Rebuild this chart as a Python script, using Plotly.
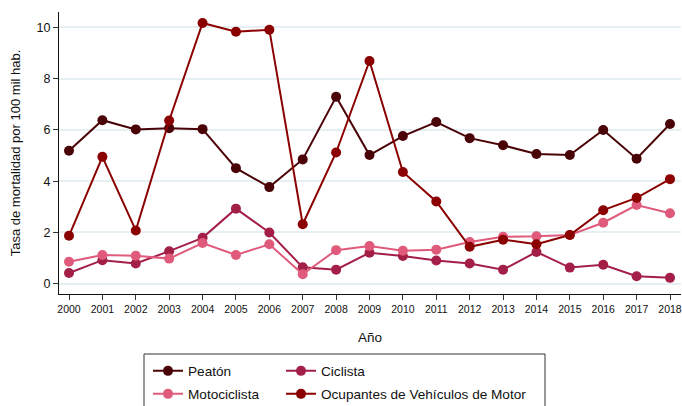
import plotly.graph_objects as go

years = list(range(2000, 2019))
peaton = [5.19, 6.38, 6.02, 6.07, 6.03, 4.51, 3.77, 4.85, 7.29, 5.02, 5.76, 6.31, 5.68, 5.40, 5.06, 5.02, 6.00, 4.88, 6.23]
ciclista = [0.42, 0.92, 0.79, 1.27, 1.79, 2.93, 2.00, 0.64, 0.55, 1.21, 1.08, 0.91, 0.79, 0.55, 1.24, 0.63, 0.74, 0.29, 0.23]
moto = [0.86, 1.12, 1.09, 0.98, 1.59, 1.12, 1.54, 0.37, 1.31, 1.47, 1.29, 1.33, 1.63, 1.83, 1.85, 1.90, 2.38, 3.07, 2.75]
ocupantes = [1.87, 4.95, 2.08, 6.37, 10.17, 9.83, 9.91, 2.32, 5.12, 8.69, 4.36, 3.21, 1.44, 1.72, 1.54, 1.90, 2.87, 3.35, 4.08]

names = ["Peatón", "Ciclista", "Motociclista", "Ocupantes de Vehículos de Motor"]
colors = ["#4a0306", "#a31f48", "#e05a7b", "#8b0000"]
series = [peaton, ciclista, moto, ocupantes]
legend_ids = ["legend", "legend2", "legend3", "legend4"]
# legend entry anchor positions in pixels (left x, center y)
legend_px = [(148, 371), (281, 371), (148, 394), (281, 394)]

W, H = 682, 406
ml, mr, mt, mb = 59, 1, 12, 112
pw, ph = W - ml - mr, H - mt - mb

fig = go.Figure()
for i in range(4):
    fig.add_trace(go.Scatter(
        x=years, y=series[i], name=names[i], mode="lines+markers",
        line=dict(color=colors[i], width=2),
        marker=dict(color=colors[i], size=10),
        legend=legend_ids[i],
    ))

def px_x(p):
    return (p - ml) / pw

def px_y(p):
    return (H - mb - p) / ph

fig.add_shape(type="rect", xref="paper", yref="paper",
              x0=px_x(144), x1=px_x(545), y0=px_y(412), y1=px_y(354),
              line=dict(color="#333333", width=1), fillcolor="rgba(0,0,0,0)")

font = "Arial, Liberation Sans, sans-serif"
legend_cfg = {}
for lid, (lx, ly) in zip(legend_ids, legend_px):
    legend_cfg[lid] = dict(orientation="h", xref="container", yref="container",
                           x=lx / W, y=(H - ly) / H, xanchor="left", yanchor="middle",
                           font=dict(size=13.6, color="#111111"), bgcolor="rgba(0,0,0,0)")

fig.update_layout(
    template="none",
    width=W, height=H,
    margin=dict(l=ml, r=mr, t=mt, b=mb, autoexpand=False),
    paper_bgcolor="white", plot_bgcolor="white",
    font=dict(family=font, color="#111111", size=13),
    showlegend=True,
    xaxis=dict(range=[2000 - 10 / 33.39, 2018 + 11 / 33.39], tickmode="array",
               tickvals=years, ticktext=[str(y) for y in years],
               ticks="outside", ticklen=5, tickcolor="#333333", tickwidth=1,
               showline=True, linecolor="#111111", linewidth=1,
               showgrid=False, zeroline=False, automargin=False,
               tickfont=dict(size=10.5, color="#111111"),
               title=dict(text="Año", font=dict(size=13.5, color="#111111"), standoff=18)),
    yaxis=dict(range=[-0.40, 10.6], tickmode="array", tickvals=[0, 2, 4, 6, 8, 10],
               ticks="outside", ticklen=5, tickcolor="#333333", tickwidth=1,
               showline=True, linecolor="#111111", linewidth=1,
               showgrid=True, gridcolor="#e6eff2", gridwidth=1.5, zeroline=False,
               automargin=False,
               tickfont=dict(size=12.5, color="#111111"),
               title=dict(text="Tasa de mortalidad por 100 mil hab.", font=dict(size=13, color="#111111"), standoff=13)),
    **legend_cfg,
)

fig.write_html("out.html", config={"displayModeBar": False},
               post_script="document.body.style.margin='0px';")
